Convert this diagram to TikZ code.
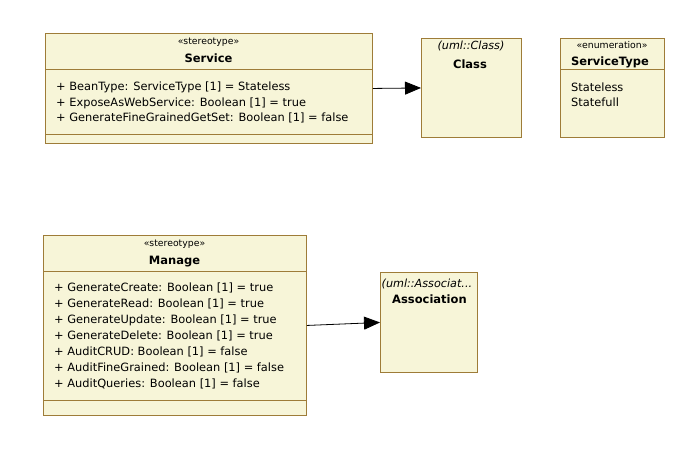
\documentclass[tikz,border=0pt]{standalone}
\usepackage{fontspec}
\setmainfont{DejaVu Sans}
\usetikzlibrary{arrows.meta}
\definecolor{umlfill}{HTML}{F7F5D8}
\definecolor{umlborder}{HTML}{9E7C38}
\tikzset{
  umlbox/.style={draw=umlborder, fill=umlfill, line width=0.9pt, anchor=north west, inner sep=0pt, rectangle},
  divider/.style={draw=umlborder, line width=0.9pt},
  stereo/.style={inner sep=0pt, anchor=base, font=\fontsize{9.3}{10}\selectfont},
  title/.style={inner sep=0pt, anchor=base, font=\fontsize{11.5}{13}\selectfont\bfseries},
  attr/.style={inner sep=0pt, anchor=base west, font=\fontsize{11.4}{13}\selectfont},
  meta/.style={inner sep=0pt, anchor=base, font=\fontsize{11.2}{12}\selectfont\itshape},
  assoc/.style={draw=black, line width=0.8pt, -{Triangle[length=16pt,width=13pt]}}
}
\begin{document}
\begin{tikzpicture}[x=1pt,y=-1pt]
\useasboundingbox (0,0) rectangle (689,454);
% Service
\node[umlbox, minimum width=327, minimum height=110] (service) at (45,33) {};
\draw[divider] (service.west |- 0,69) -- (service.east |- 0,69);
\draw[divider] (service.west |- 0,134) -- (service.east |- 0,134);
\node[stereo] (servicest) at (208.5,45) {«stereotype»};
\node[title] (servicename) at (208.5,63) {Service};
\node[attr] (sa1) at (56,91) {+ BeanType: ServiceType [1] = Stateless};
\node[attr] (sa2) at (56,107) {+ ExposeAsWebService: Boolean [1] = true};
\node[attr] (sa3) at (56,122) {+ GenerateFineGrainedGetSet: Boolean [1] = false};
% Class
\node[umlbox, minimum width=100, minimum height=99] (class) at (421,38) {};
\node[meta] (classmeta) at (471,50) {(uml::Class)};
\node[title] (classname) at (470,69) {Class};
% ServiceType
\node[umlbox, minimum width=104, minimum height=99] (stype) at (560,38) {};
\draw[divider] (stype.west |- 0,69) -- (stype.east |- 0,69);
\node[stereo] (stypest) at (612,48.5) {«enumeration»};
\node[title] (stypename) at (610,66) {ServiceType};
\node[attr] (sl1) at (571,92) {Stateless};
\node[attr] (sl2) at (571,107) {Statefull};
% Manage
\node[umlbox, minimum width=263, minimum height=180] (manage) at (43,235) {};
\draw[divider] (manage.west |- 0,271) -- (manage.east |- 0,271);
\draw[divider] (manage.west |- 0,400) -- (manage.east |- 0,400);
\node[stereo] (managest) at (174.5,247) {«stereotype»};
\node[title] (managename) at (174.5,265) {Manage};
\node[attr] (ma1) at (54,292) {+ GenerateCreate: Boolean [1] = true};
\node[attr] (ma2) at (54,308) {+ GenerateRead: Boolean [1] = true};
\node[attr] (ma3) at (54,324) {+ GenerateUpdate: Boolean [1] = true};
\node[attr] (ma4) at (54,340) {+ GenerateDelete: Boolean [1] = true};
\node[attr] (ma5) at (54,356) {+ AuditCRUD: Boolean [1] = false};
\node[attr] (ma6) at (54,372) {+ AuditFineGrained: Boolean [1] = false};
\node[attr] (ma7) at (54,388) {+ AuditQueries: Boolean [1] = false};
% Association
\node[umlbox, minimum width=97, minimum height=100] (assocbox) at (380,272) {};
\node[meta, anchor=base west] (assocmeta) at (381.5,288) {(uml::Associat...};
\node[title] (assocname) at (429.5,304) {Association};
% connectors
\draw[assoc] (service.east) -- (class.west);
\draw[assoc] (manage.east) -- (assocbox.west);
\end{tikzpicture}
\end{document}
